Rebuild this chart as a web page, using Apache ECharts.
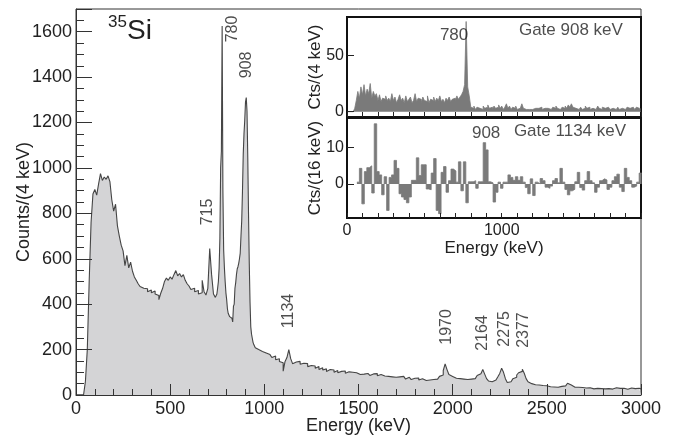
<!DOCTYPE html>
<html>
<head>
<meta charset="utf-8">
<script src="https://cdn.jsdelivr.net/npm/echarts@6/dist/echarts.min.js"></script>
<style>
  html, body { margin: 0; padding: 0; background: #fff; }
  #c { width: 685px; height: 436px; }
</style>
</head>
<body>
<div id="c"></div>
<script>
// ---- Singles spectrum (counts per bin) ----
// 10 keV bins, 0 - 740 keV
const lowStart = 0, lowWidth = 10;
const lowCounts = [
  0, 0, 0, 0, 0, 60, 200, 500, 760, 885,            // 0
  905, 880, 930, 975, 945, 960, 950, 965, 940, 860,  // 100
  810, 840, 745, 700, 660, 635, 570, 615, 560, 585,  // 200
  545, 520, 505, 490, 478, 470, 462, 468, 455, 462,  // 300
  450, 458, 445, 438, 420, 448, 470, 500, 515, 505,  // 400
  520, 510, 530, 548, 525, 535, 520, 530, 505, 490,  // 500
  480, 465, 470, 455, 460, 445, 450, 505, 455, 440,  // 600
  470, 645, 530, 445                                 // 700
];
// 4 keV bins, 740 - 960 keV (780 / 908 keV region)
const peakStart = 740, peakWidth = 4;
const peakCounts = [
  430, 425, 445, 470, 500, 560, 690, 1000, 1075, 1625,  // 740
  900, 640, 560, 500, 450, 420, 380, 360, 360, 345,     // 780
  350, 338, 340, 322, 390, 400, 470, 495, 530, 555,     // 820
  565, 580, 600, 625, 700, 770, 900, 1060, 1150, 1210,  // 860
  1290, 1310, 1250, 1050, 800, 580, 410, 300, 268, 250, // 900
  232, 222, 215, 208, 204                               // 940
];
// 10 keV bins, 960 - 3000 keV
const highStart = 960, highWidth = 10;
const highCounts = [
  200, 196, 192, 200, 185, 188, 178, 182, 165, 172,  // 960
  155, 160, 148, 142, 105, 148, 165, 200, 160, 138,  // 1060
  145, 140, 148, 135, 140, 132, 138, 125, 130, 122,  // 1160
  128, 118, 125, 112, 120, 110, 115, 104, 112, 106,  // 1260
  110, 100, 108, 98, 104, 100, 106, 96, 102, 95,     // 1360
  100, 92, 98, 94, 90, 96, 92, 88, 95, 90,           // 1460
  86, 93, 88, 94, 85, 90, 86, 84, 90, 82,            // 1560
  86, 80, 85, 78, 84, 80, 76, 82, 75, 70,            // 1660
  78, 72, 68, 74, 70, 75, 66, 72, 68, 64,            // 1760
  70, 66, 72, 68, 74, 70, 78, 82, 88, 108,           // 1860
  137, 112, 90, 82, 78, 74, 80, 72, 76, 70,          // 1960
  72, 68, 74, 70, 76, 72, 80, 86, 94, 100,           // 2060
  112, 92, 72, 62, 58, 62, 66, 72, 80, 95,           // 2160
  118, 100, 72, 55, 58, 65, 72, 78, 88, 98,          // 2260
  104, 113, 96, 72, 58, 50, 46, 45, 42, 44,          // 2360
  40, 42, 38, 41, 38, 36, 40, 35, 38, 34,            // 2460
  36, 38, 35, 40, 46, 52, 44, 36, 34, 32,            // 2560
  34, 30, 33, 29, 31, 28, 32, 30, 27, 31,            // 2660
  29, 33, 28, 30, 27, 32, 28, 30, 26, 29,            // 2760
  32, 27, 29, 26, 30, 27, 25, 29, 31, 26,            // 2860
  28, 24, 30, 27                                     // 2960
];

// ---- Gated spectrum, gate on 908 keV (10 keV bins, 0 - 1900 keV) ----
const gate908Start = 0, gate908Width = 10;
const gate908Counts = [
  0, 0, 0, 0, 0, 3, 10, 18, 12, 22,        // 0
  15, 24, 14, 20, 16, 25, 12, 18, 14, 16,  // 100
  10, 15, 9, 12, 11, 14, 10, 12, 9, 16,    // 200
  10, 13, 8, 11, 15, 10, 12, 8, 14, 9,     // 300
  11, 13, 8, 10, 16, 9, 12, 11, 8, 13,     // 400
  10, 9, 14, 8, 11, 10, 13, 9, 12, 10,     // 500
  14, 9, 11, 8, 12, 10, 13, 9, 11, 12,     // 600
  10, 14, 11, 13, 15, 18, 24, 80, 22, 14,  // 700
  4, 3, 5, 2, 4, 3, 4, 2, 5, 3,            // 800
  4, 6, 3, 4, 2, 5, 3, 4, 6, 3,            // 900
  5, 2, 4, 7, 3, 5, 2, 4, 3, 5,            // 1000
  2, 3, 4, 7, 3, 2, 3, 2, 3, 2,            // 1100
  1, 3, 2, 3, 2, 4, 2, 3, 2, 3,            // 1200
  4, 2, 3, 4, 3, 5, 3, 2, 3, 4,            // 1300
  3, 5, 3, 6, 4, 7, 4, 3, 4, 2,            // 1400
  3, 4, 2, 3, 5, 3, 4, 2, 3, 4,            // 1500
  2, 3, 5, 3, 2, 4, 3, 2, 4, 3,            // 1600
  2, 3, 4, 2, 3, 4, 2, 3, 4, 2,            // 1700
  3, 4, 3, 2, 4, 3, 2, 4, 3, 2             // 1800
];

// ---- Gated spectrum, gate on 1134 keV (16 keV bins from 64 keV) ----
const gate1134Start = 64, gate1134Width = 16;
const gate1134Counts = [
  0.5, 4.3, -5.5, 3.4, 4.5, 5, -2.5, 16.6, 3.4, 2.5,
  -3, 2, -7.3, 1.8, 2.5, 6.5, 4.3, -2.7, -3.6, -4.3,
  -5.2, -3.6, 1, 1, 7.2, 2.3, 5.3, 5.3, -1.4, -1.6,
  3, 7, -7.3, -8.2, 3.2, 4.8, -2.3, 0.9, 4.1, 3.6,
  0.5, 6.1, -1.9, 6.1, -5.2, 0.6, 0.6, 0.9, -1.2, 0.6,
  0.6, 11.4, 9.4, 0.6, 0.3, -5, -2.3, 0.5, -1.2, 0.5,
  0.5, 2.5, 1.8, 1, 2, 1, 2, 0.5, -1, -2.7,
  1.4, -3.2, 0.5, 0, 1.5, 0.9, -0.9, -1.2, -0.6, 0.9,
  1.5, 0.3, 4.3, 0.5, -1.5, -3, -1.9, -1.5, 0.6, 3.2,
  -1, -1.7, 0.9, 3.4, 0.9, 0.3, -2.3, -0.9, 0.9, 1.4,
  1.1, -1.5, -0.9, 0.9, 2, 2.7, -0.9, -2.1, 4.3, 1.8,
  0.9, -0.9, -0.6, 0.5, 3
];

// ---- Tick labels ----
const mainYLabelStep = 200;
const insetXLabels = [0, 1000];
const gate908YTicks = [0, 50];
const gate1134YTicks = [0, 10];

// ---- Peak annotations: [energy, counts, text] anchor for each label ----
const mainPeakLabels = [
  [701, 806, '715'], [834, 1612, '780'], [908, 1454, '908'], [1131, 370, '1134'],
  [1970, 300, '1970'], [2161, 273, '2164'], [2278, 291, '2275'], [2377, 286, '2377']
];
const gate908Labels = [[692, 68, '780'], [1447, 72.6, 'Gate 908 keV']];
const gate1134Labels = [[899, 14, '908'], [1441, 14.6, 'Gate 1134 keV']];

const FONT = '"Liberation Sans", Arial, Helvetica, sans-serif';
const INK = '#222';
const AXIS = '#333';

// histogram points: each value spans [edge, next edge)
function histogram(start, width, counts) {
  return counts.map((c, i) => [start + i * width, c]);
}
function closeHistogram(points, endEdge) {
  return points.concat([[endEdge, points[points.length - 1][1]]]);
}

const mainData = closeHistogram(
  histogram(lowStart, lowWidth, lowCounts)
    .concat(histogram(peakStart, peakWidth, peakCounts))
    .concat(histogram(highStart, highWidth, highCounts)),
  3000);
const gate908Data = closeHistogram(histogram(gate908Start, gate908Width, gate908Counts), 1900);
const gate1134Data = closeHistogram(histogram(gate1134Start, gate1134Width, gate1134Counts),
  gate1134Start + gate1134Counts.length * gate1134Width);

function labelSeries(xi, yi, data, rotate, size, z) {
  return {
    type: 'scatter', xAxisIndex: xi, yAxisIndex: yi, z: z,
    symbolSize: 1, itemStyle: { color: 'rgba(0,0,0,0)' },
    silent: true, clip: false,
    data: data,
    label: {
      show: true, position: 'inside', rotate: rotate,
      fontSize: size, fontFamily: FONT, color: INK,
      formatter: p => p.value[2]
    }
  };
}

const chart = echarts.init(document.getElementById('c'), null, { renderer: 'canvas' });

const option = {
  animation: false,
  backgroundColor: '#fff',
  grid: [
    { left: 76, top: 9, width: 565, height: 386, outerBoundsMode: 'none', containLabel: false,
      show: true, borderColor: AXIS, borderWidth: 1, backgroundColor: 'transparent' },
    { left: 347, top: 17, width: 294, height: 100, outerBoundsMode: 'none', containLabel: false,
      show: true, borderColor: '#111', borderWidth: 2, backgroundColor: '#fff', z: 10 },
    { left: 347, top: 118, width: 294, height: 100, outerBoundsMode: 'none', containLabel: false,
      show: true, borderColor: '#111', borderWidth: 2, backgroundColor: '#fff', z: 10 }
  ],
  xAxis: [
    { // main
      gridIndex: 0, type: 'value', min: 0, max: 3000, interval: 500, z: 3,
      axisLine: { onZero: false, lineStyle: { color: AXIS, width: 1 } },
      axisTick: { show: true, inside: true, length: 11, lineStyle: { color: AXIS } },
      minorTick: { show: true, splitNumber: 5, length: 6, lineStyle: { color: AXIS } },
      axisLabel: { fontSize: 18, fontFamily: FONT, color: INK, margin: 5, formatter: v => String(v) },
      splitLine: { show: false },
      name: 'Energy (keV)', nameLocation: 'middle', nameGap: 22, nameMoveOverlap: false,
      nameTextStyle: { fontSize: 18, fontFamily: FONT, color: INK }
    },
    { // gate 908 panel
      gridIndex: 1, type: 'value', min: 0, max: 1900, interval: 100, z: 12,
      axisLine: { onZero: false, lineStyle: { color: '#111', width: 2 } },
      axisTick: { show: true, inside: true, length: 5, lineStyle: { color: '#222' } },
      axisLabel: { show: false },
      splitLine: { show: false }
    },
    { // gate 1134 panel
      gridIndex: 2, type: 'value', min: 0, max: 1900, interval: 100, z: 12,
      axisLine: { onZero: false, lineStyle: { color: '#111', width: 2 } },
      axisTick: { show: true, inside: true, length: 5, lineStyle: { color: '#222' } },
      axisLabel: { fontSize: 16, fontFamily: FONT, color: INK, margin: 5,
        formatter: v => insetXLabels.indexOf(v) >= 0 ? String(v) : '' },
      splitLine: { show: false },
      name: 'Energy (keV)', nameLocation: 'middle', nameGap: 22, nameMoveOverlap: false,
      nameTextStyle: { fontSize: 17, fontFamily: FONT, color: INK }
    }
  ],
  yAxis: [
    { // main
      gridIndex: 0, type: 'value', min: 0, max: 1700, interval: 200, z: 3,
      axisLine: { show: true, onZero: false, lineStyle: { color: AXIS, width: 1 } },
      axisTick: { show: true, inside: true, length: 16, lineStyle: { color: AXIS } },
      minorTick: { show: true, splitNumber: 4, length: 8, lineStyle: { color: AXIS } },
      axisLabel: { fontSize: 18, fontFamily: FONT, color: INK, margin: 4,
        formatter: v => (v % mainYLabelStep === 0 ? String(v) : '') },
      splitLine: { show: false },
      name: 'Counts/(4 keV)', nameLocation: 'middle', nameGap: 43, nameMoveOverlap: false,
      nameTextStyle: { fontSize: 18, fontFamily: FONT, color: INK }
    },
    { // gate 908 panel
      gridIndex: 1, type: 'value', min: -4.7, max: 84, z: 12,
      axisLine: { show: true, onZero: false, lineStyle: { color: '#111', width: 2 } },
      axisTick: { show: true, inside: true, length: 7, lineStyle: { color: '#222' }, customValues: gate908YTicks },
      axisLabel: { fontSize: 16, fontFamily: FONT, color: INK, margin: 3, customValues: gate908YTicks, formatter: v => String(v) },
      splitLine: { show: false },
      name: 'Cts/(4 keV)', nameLocation: 'middle', nameGap: 23, nameMoveOverlap: false,
      nameTextStyle: { fontSize: 17, fontFamily: FONT, color: INK }
    },
    { // gate 1134 panel
      gridIndex: 2, type: 'value', min: -9.4, max: 18.2, z: 12,
      axisLine: { show: true, onZero: false, lineStyle: { color: '#111', width: 2 } },
      axisTick: { show: true, inside: true, length: 7, lineStyle: { color: '#222' }, customValues: gate1134YTicks },
      axisLabel: { fontSize: 16, fontFamily: FONT, color: INK, margin: 3, customValues: gate1134YTicks, formatter: v => String(v) },
      splitLine: { show: false },
      name: 'Cts/(16 keV)', nameLocation: 'middle', nameGap: 23, nameMoveOverlap: false,
      nameTextStyle: { fontSize: 17, fontFamily: FONT, color: INK }
    }
  ],
  series: [
    {
      type: 'line', xAxisIndex: 0, yAxisIndex: 0, z: 2,
      step: 'end', symbol: 'none', data: mainData,
      lineStyle: { color: '#454545', width: 1.1 },
      areaStyle: { color: '#d4d4d6', origin: 'start', opacity: 1 }
    },
    {
      type: 'line', xAxisIndex: 1, yAxisIndex: 1, z: 11,
      step: 'end', symbol: 'none', data: gate908Data,
      lineStyle: { color: '#7a7a7a', width: 0.8 },
      areaStyle: { color: '#7a7a7a', origin: 'auto', opacity: 1 }
    },
    {
      type: 'line', xAxisIndex: 2, yAxisIndex: 2, z: 11,
      step: 'end', symbol: 'none', data: gate1134Data,
      lineStyle: { color: '#7a7a7a', width: 0.8 },
      areaStyle: { color: '#7a7a7a', origin: 'auto', opacity: 1 }
    },
    labelSeries(0, 0, mainPeakLabels, 90, 16, 4),
    labelSeries(1, 1, gate908Labels, 0, 17, 13),
    labelSeries(2, 2, gate1134Labels, 0, 17, 13)
  ],
  graphic: [
    { type: 'text', left: 108, top: 14, z: 20, style: { text: '35', fontSize: 17, fontFamily: FONT, fill: INK } },
    { type: 'text', left: 127, top: 17, z: 20, style: { text: 'Si', fontSize: 28, fontFamily: FONT, fill: INK } }
  ]
};

chart.setOption(option);
</script>
</body>
</html>
